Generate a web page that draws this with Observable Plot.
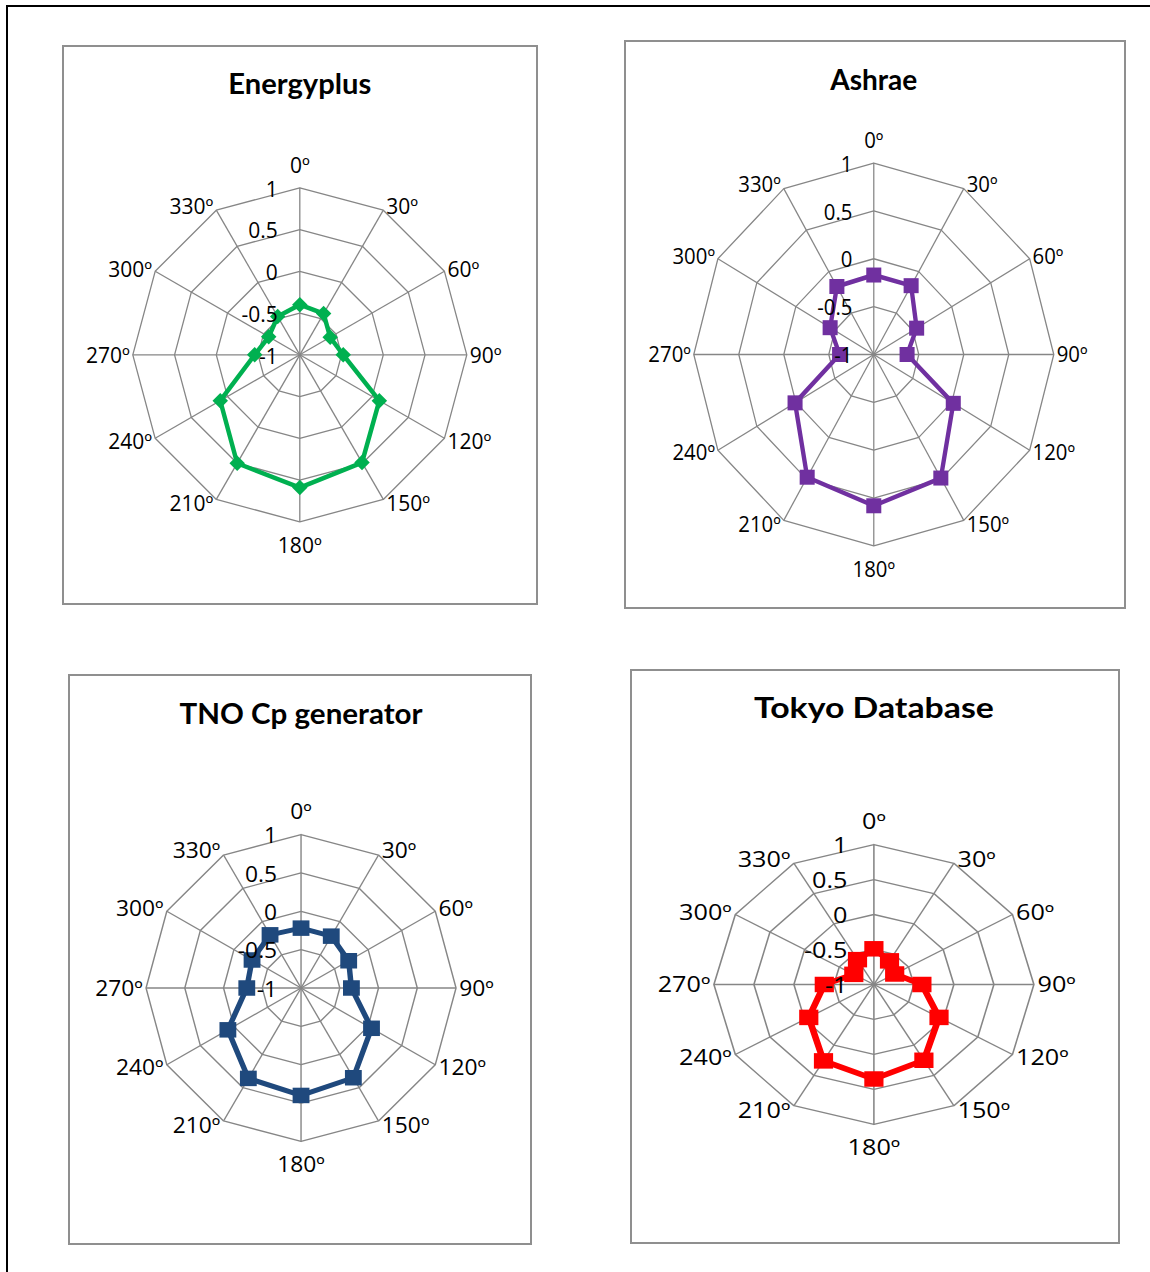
<!DOCTYPE html>
<html>
<head>
<meta charset="utf-8">
<script src="https://cdn.jsdelivr.net/npm/d3@7"></script>
<script src="https://cdn.jsdelivr.net/npm/@observablehq/plot@0.6"></script>
<style>
html, body { margin: 0; padding: 0; background: #fff; }
#page { position: relative; width: 1150px; height: 1272px; overflow: hidden; background: #fff; }
#frame { position: absolute; left: 6px; top: 5px; width: 2000px; height: 2000px; border-top: 2px solid #000; border-left: 2px solid #000; }
.box { position: absolute; box-sizing: border-box; border: 2px solid #8f8f8f; pointer-events: none; }
.panel { position: absolute; transform-origin: 0 0; }
</style>
</head>
<body>
<div id="page"><div id="frame"></div></div>
<script>
// ---------- data ----------
const angles = [0, 30, 60, 90, 120, 150, 180, 210, 240, 270, 300, 330];
const angleLabels = ["0º", "30º", "60º", "90º", "120º", "150º", "180º", "210º", "240º", "270º", "300º", "330º"];
const tickValues = [1, 0.5, 0, -0.5, -1];
const tickLabels = ["1", "0.5", "0", "-0.5", "-1"];
const ringValues = [1, 0.5, 0, -0.5];
const titles = ["Energyplus", "Ashrae", "TNO Cp generator", "Tokyo Database"];
const energyplus = [-0.40, -0.43, -0.58, -0.48, 0.10, 0.49, 0.59, 0.50, 0.10, -0.46, -0.57, -0.47];
const ashrae     = [-0.17, -0.17, -0.45, -0.63, 0.02, 0.49, 0.58, 0.48, 0.01, -0.62, -0.44, -0.18];
const tno        = [-0.22, -0.22, -0.29, -0.35, 0.05, 0.35, 0.40, 0.36, 0.09, -0.30, -0.27, -0.20];
const tokyo      = [-0.49, -0.61, -0.70, -0.40, -0.06, 0.25, 0.35, 0.26, -0.06, -0.38, -0.71, -0.59];

// ---------- layout ----------
const panels = [
  {title: titles[0], values: energyplus, color: "#00B050", shape: "diamond", mw: 15.5, mh: 15.5, lw: 4.5,
   box: [62, 45, 476, 560], c: [299.3, 354.3], R: [167, 167], sx: 1, titleBase: 48, titleW: 143},
  {title: titles[1], values: ashrae, color: "#7030A0", shape: "square", mw: 15.5, mh: 15, lw: 4.5,
   box: [624, 40, 502, 569], c: [873.3, 354], R: [180, 191.5], sx: 0.97, titleBase: 49, titleW: 87},
  {title: titles[2], values: tno, color: "#1F497D", shape: "square", mw: 15.5, mh: 15.5, lw: 5,
   box: [68, 674, 464, 571], c: [300.5, 987.5], R: [155, 153.5], sx: 1.086, titleBase: 49, titleW: 243},
  {title: titles[3], values: tokyo, color: "#FF0000", shape: "square", mw: 16, mh: 15.5, lw: 5.5,
   box: [630, 669, 490, 575], c: [873.3, 984], R: [160, 140], sx: 1.2, titleBase: 48.5, titleW: 240}
];

const LABEL_FONT = "'Open Sans', Lato, sans-serif";
const TITLE_FONT = "Lato, 'Open Sans', sans-serif";
const LABEL_SIZE = 21;
const GRID = "#868686";
const rad = v => (v + 1) / 2;               // value -1..1 -> normalized radius 0..1
const toRad = a => a * Math.PI / 180;

function markerSymbol(shape, w, h) {
  return {
    draw(ctx) {
      if (shape === "diamond") {
        ctx.moveTo(0, -h / 2); ctx.lineTo(w / 2, 0); ctx.lineTo(0, h / 2); ctx.lineTo(-w / 2, 0); ctx.closePath();
      } else {
        ctx.rect(-w / 2, -h / 2, w, h);
      }
    }
  };
}

const page = document.getElementById("page");

for (const p of panels) {
  const [left, top, w, h] = p.box;
  const sx = p.sx;
  const W = w / sx, H = h;
  const cx = (p.c[0] - left) / sx, cy = p.c[1] - top;
  const Rx = p.R[0] / sx, Ry = p.R[1];

  const ringData = ringValues.flatMap(rv =>
    [...angles, angles[0]].map(a => ({ring: rv, x: rad(rv) * Math.sin(toRad(a)), y: rad(rv) * Math.cos(toRad(a))})));
  const series = angles.map((a, i) => ({a, v: p.values[i]}));
  const closed = [...series, series[0]];
  const px = d => rad(d.v) * Math.sin(toRad(d.a));
  const py = d => rad(d.v) * Math.cos(toRad(d.a));

  const angleMarks = angles.map((a, i) => {
    const s = Math.sin(toRad(a)), c = Math.cos(toRad(a));
    const side = Math.abs(s) < 1e-6 ? 0 : Math.sign(s);
    return Plot.text([a], {
      x: d => Math.sin(toRad(d)),
      y: d => Math.cos(toRad(d)),
      text: () => angleLabels[i],
      textAnchor: side > 0 ? "start" : side < 0 ? "end" : "middle",
      dx: side * 3,
      dy: side === 0 ? (c > 0 ? -22 : 24) : -5 * c + 1,
      fontSize: LABEL_SIZE, fill: "#000", fontFamily: LABEL_FONT
    });
  });

  const svg = Plot.plot({
    width: W, height: H, margin: 0,
    style: {background: "transparent", fontFamily: LABEL_FONT, overflow: "visible"},
    x: {domain: [-1, 1], range: [cx - Rx, cx + Rx], axis: null},
    y: {domain: [-1, 1], range: [cy + Ry, cy - Ry], axis: null},
    marks: [
      Plot.line(ringData, {x: "x", y: "y", z: "ring", stroke: GRID, strokeWidth: 1.3}),
      Plot.link(angles, {x1: () => 0, y1: () => 0, x2: a => Math.sin(toRad(a)), y2: a => Math.cos(toRad(a)), stroke: GRID, strokeWidth: 1.3}),
      Plot.line(closed, {x: px, y: py, stroke: p.color, strokeWidth: p.lw, strokeLinejoin: "round"}),
      Plot.dot(series, {x: px, y: py, symbol: markerSymbol(p.shape, p.mw, p.mh), r: 5, fill: p.color, stroke: "none"}),
      Plot.text(tickValues, {x: () => 0, y: v => rad(v), text: (d, i) => tickLabels[i], textAnchor: "end", dx: -22, dy: 2, fontSize: LABEL_SIZE, fill: "#000", fontFamily: LABEL_FONT}),
      ...angleMarks,
      Plot.text([p.title], {x: () => 0, frameAnchor: "top", lineAnchor: "bottom", dy: p.titleBase, text: d => d, fontSize: 29, fontWeight: "bold", fill: "#000", fontFamily: TITLE_FONT, className: "chart-title"})
    ]
  });
  const tt = svg.querySelector(".chart-title text");
  if (tt) {
    tt.setAttribute("textLength", (p.titleW / sx).toFixed(1));
    tt.setAttribute("lengthAdjust", "spacingAndGlyphs");
  }
  svg.classList.add("panel");
  svg.style.left = left + "px";
  svg.style.top = top + "px";
  svg.style.width = W + "px";
  svg.style.height = H + "px";
  svg.style.maxWidth = "none";
  svg.style.transform = `scale(${sx}, 1)`;
  page.appendChild(svg);

  const b = document.createElement("div");
  b.className = "box";
  b.style.left = left + "px"; b.style.top = top + "px";
  b.style.width = w + "px"; b.style.height = h + "px";
  page.appendChild(b);
}
</script>
</body>
</html>
